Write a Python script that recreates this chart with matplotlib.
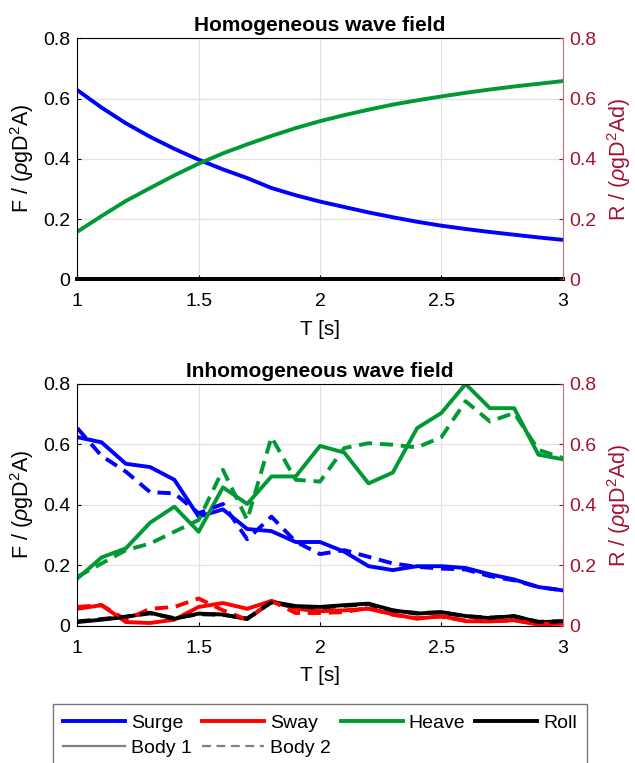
import matplotlib

matplotlib.use("Agg")
import matplotlib.pyplot as plt
from matplotlib.lines import Line2D

plt.rcParams["font.family"] = ["Liberation Sans", "DejaVu Sans"]
plt.rcParams["mathtext.fontset"] = "custom"
plt.rcParams["mathtext.rm"] = "Liberation Sans"
plt.rcParams["mathtext.it"] = "Liberation Sans:italic"

C_SURGE, C_SWAY, C_HEAVE, C_ROLL = "#0000ff", "#ff0000", "#009933", "#000000"
C_RIGHT = "#a2142f"

# periods [s]
T = [1.0, 1.1, 1.2, 1.3, 1.4, 1.5, 1.6, 1.7, 1.8, 1.9, 2.0,
     2.1, 2.2, 2.3, 2.4, 2.5, 2.6, 2.7, 2.8, 2.9, 3.0]

# homogeneous wave field (both bodies identical)
hom_surge = [0.628, 0.570, 0.518, 0.473, 0.433, 0.397, 0.365, 0.336, 0.303, 0.279, 0.258,
             0.240, 0.222, 0.206, 0.191, 0.178, 0.167, 0.157, 0.148, 0.139, 0.131]
hom_heave = [0.158, 0.210, 0.260, 0.303, 0.345, 0.384, 0.418, 0.448, 0.476, 0.502, 0.525,
             0.545, 0.563, 0.580, 0.594, 0.607, 0.619, 0.630, 0.640, 0.649, 0.658]
hom_sway = [0.0] * 21
hom_roll = [0.0] * 21

# inhomogeneous wave field, body 1
surge_b1 = [0.624, 0.607, 0.536, 0.525, 0.483, 0.361, 0.385, 0.320, 0.313, 0.277, 0.277,
            0.245, 0.197, 0.184, 0.197, 0.197, 0.191, 0.170, 0.153, 0.128, 0.117]
sway_b1 = [0.056, 0.068, 0.012, 0.009, 0.020, 0.062, 0.075, 0.056, 0.082, 0.056, 0.048,
           0.051, 0.056, 0.038, 0.023, 0.032, 0.015, 0.014, 0.018, 0.004, 0.007]
heave_b1 = [0.156, 0.226, 0.256, 0.341, 0.394, 0.311, 0.458, 0.403, 0.494, 0.494, 0.595,
            0.573, 0.471, 0.507, 0.654, 0.704, 0.800, 0.720, 0.720, 0.566, 0.551]
roll_b1 = [0.012, 0.020, 0.029, 0.043, 0.023, 0.040, 0.037, 0.022, 0.079, 0.065, 0.062,
           0.068, 0.073, 0.051, 0.040, 0.045, 0.032, 0.025, 0.032, 0.012, 0.014]

# inhomogeneous wave field, body 2
surge_b2 = [0.654, 0.562, 0.510, 0.442, 0.438, 0.372, 0.403, 0.286, 0.361, 0.278, 0.237,
            0.250, 0.228, 0.206, 0.195, 0.189, 0.186, 0.164, 0.150, 0.128, 0.117]
sway_b2 = [0.062, 0.068, 0.020, 0.056, 0.062, 0.090, 0.051, 0.020, 0.082, 0.042, 0.042,
           0.045, 0.059, 0.036, 0.025, 0.030, 0.017, 0.015, 0.018, 0.005, 0.008]
heave_b2 = [0.162, 0.206, 0.250, 0.272, 0.311, 0.350, 0.516, 0.350, 0.624, 0.483, 0.477,
            0.588, 0.604, 0.599, 0.590, 0.624, 0.743, 0.676, 0.704, 0.582, 0.555]
roll_b2 = [0.014, 0.022, 0.030, 0.041, 0.025, 0.038, 0.036, 0.024, 0.077, 0.063, 0.060,
           0.066, 0.071, 0.050, 0.042, 0.044, 0.031, 0.027, 0.031, 0.013, 0.015]

LW = 2.8
DASH = (3.4, 2.0)

W, H = 635, 763
fig = plt.figure(figsize=(W / 100, H / 100), dpi=100)


def setup(ax, title):
    ax.set_xlim(1, 3)
    ax.set_ylim(0, 0.8)
    ax.set_xticks([1, 1.5, 2, 2.5, 3], ["1", "1.5", "2", "2.5", "3"])
    ax.set_yticks([0, 0.2, 0.4, 0.6, 0.8], ["0", "0.2", "0.4", "0.6", "0.8"])
    ax.tick_params(direction="in", length=3, labelsize=14, pad=5)
    ax.tick_params(axis="x", pad=10)
    ax.grid(True, color="#e3e3e3", lw=0.9)
    ax.set_axisbelow(True)
    ax.spines["right"].set_visible(False)
    ax.set_xlabel("T [s]", fontsize=15, labelpad=7)
    ax.set_ylabel(r"F / ($\rho$gD$^2$A)", fontsize=15.5, labelpad=5)
    ax.set_title(title, fontsize=15, fontweight="bold", pad=5)
    r = ax.twinx()
    r.set_ylim(0, 0.8)
    r.set_yticks([0, 0.2, 0.4, 0.6, 0.8], ["0", "0.2", "0.4", "0.6", "0.8"])
    r.tick_params(direction="in", length=3, labelsize=14, colors=C_RIGHT, pad=5)
    r.spines["right"].set_color("#c66d80")
    for s in ("left", "top", "bottom"):
        r.spines[s].set_visible(False)
    r.set_ylabel(r"R / ($\rho$gD$^2$Ad)", fontsize=15.5, color=C_RIGHT, labelpad=6)
    return r


x0, x1 = 77.3 / W, 562.7 / W
ax1 = fig.add_axes([x0, 1 - 279.3 / H, x1 - x0, (279.3 - 38.3) / H])
ax2 = fig.add_axes([x0, 1 - 625.7 / H, x1 - x0, (625.7 - 384.0) / H])
r1 = setup(ax1, "Homogeneous wave field")
r2 = setup(ax2, "Inhomogeneous wave field")

# top panel: both bodies coincide
ax1.plot(T, hom_surge, color=C_SURGE, lw=LW)
ax1.plot(T, hom_heave, color=C_HEAVE, lw=LW)
ax1.plot(T, hom_sway, color=C_SWAY, lw=LW, clip_on=False)
ax1.plot(T, hom_roll, color=C_ROLL, lw=LW, clip_on=False)

# bottom panel
for vals, c in ((surge_b1, C_SURGE), (sway_b1, C_SWAY), (heave_b1, C_HEAVE), (roll_b1, C_ROLL)):
    ax2.plot(T, vals, color=c, lw=LW)
for vals, c in ((surge_b2, C_SURGE), (sway_b2, C_SWAY), (heave_b2, C_HEAVE), (roll_b2, C_ROLL)):
    ax2.plot(T, vals, color=c, lw=LW, ls=(0, DASH))

for ax in (ax1, ax2):
    ax.set_xlim(1, 3)
    ax.set_ylim(0, 0.8)

handles = [
    Line2D([], [], color=C_SURGE, lw=LW),
    Line2D([], [], color="#808080", lw=1.6),
    Line2D([], [], color=C_SWAY, lw=LW),
    Line2D([], [], color="#808080", lw=1.6, ls=(0, (4, 2.5))),
    Line2D([], [], color=C_HEAVE, lw=LW),
    Line2D([], [], color=C_ROLL, lw=LW),
]
labels = ["Surge", "Body 1", "Sway", "Body 2", "Heave", "Roll"]
top = 1 - 704.3 / H
leg = fig.legend(handles, labels, loc="upper left", ncol=4, mode="expand",
                 bbox_to_anchor=(53.3 / W, top - 0.2, (586.7 - 53.3) / W, 0.2),
                 borderaxespad=0, fontsize=14, handlelength=3.2, handletextpad=0.3,
                 labelspacing=0.4, borderpad=0.5, columnspacing=0.8,
                 fancybox=False, framealpha=1)
leg.get_frame().set_edgecolor("#777777")
leg.get_frame().set_linewidth(1.0)

fig.savefig("out.png", dpi=100)
